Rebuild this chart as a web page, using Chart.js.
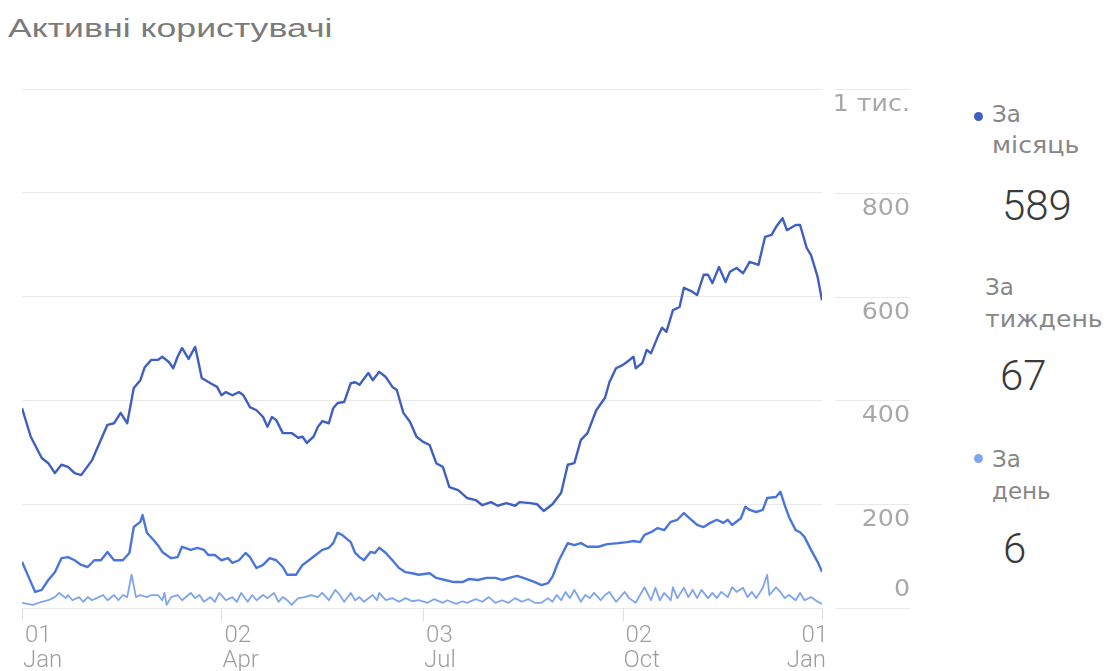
<!DOCTYPE html>
<html>
<head>
<meta charset="utf-8">
<script src="https://cdn.jsdelivr.net/npm/chart.js@4.4.1/dist/chart.umd.min.js"></script>
<style>
  body { margin: 0; background: #fff; width: 1110px; height: 671px; overflow: hidden; position: relative; }
  canvas { position: absolute; left: 0; top: 0; }
  .t { position: absolute; white-space: nowrap; line-height: 1; transform-origin: 0 0; }
  .lbl { font-family: "DejaVu Sans", sans-serif; font-size: 23px; color: #878787; }
  .num { font-family: Roboto, sans-serif; font-weight: 300; font-size: 42px; color: #3a3a3a; }
  .dot { position: absolute; width: 9px; height: 9px; border-radius: 50%; }
</style>
</head>
<body>
<div class="t" id="title" data-w="325" style="left:8px;top:15px;font-family:'Liberation Sans',Arial,sans-serif;font-size:26px;color:#7b7b7b">Активні користувачі</div>

<div class="dot" style="left:974px;top:112px;background:#3d5fc2"></div>
<div class="t lbl" style="left:992px;top:103px">За</div>
<div class="t lbl" data-w="87" style="left:992px;top:134px">місяць</div>
<div class="t num" style="left:1002px;top:185px">589</div>

<div class="t lbl" style="left:985px;top:276px">За</div>
<div class="t lbl" data-w="118" style="left:985px;top:308px">тиждень</div>
<div class="t num" style="left:1000px;top:355px">67</div>

<div class="dot" style="left:974px;top:454px;background:#7da6ef"></div>
<div class="t lbl" style="left:992px;top:448px">За</div>
<div class="t lbl" style="left:992px;top:480px">день</div>
<div class="t num" style="left:1003px;top:528px">6</div>

<canvas id="chart" width="1110" height="671"></canvas>

<script>
// days since 01 Jan
const monthDays = [0,4,9,12,15,18,21,24,27,32,36,39,42,45,48,51,54,56,59,62,64,67,69,71,73,76,79,80,82,86,89,91,93,96,99,101,104,107,110,112,114,116,119,121,123,126,128,130,133,135,137,140,142,144,147,150,152,154,158,160,163,166,169,171,174,177,180,183,186,189,192,195,199,203,207,210,214,217,221,225,227,232,235,238,242,246,249,252,255,258,262,266,268,271,274,276,279,280,283,285,287,290,292,294,297,300,302,306,308,311,313,315,318,321,323,326,329,332,336,339,342,344,347,349,353,355,358,360,363,365];
const monthUsers = [385,330,289,279,260,276,272,260,256,285,324,353,356,376,356,424,439,464,478,478,484,474,462,484,501,480,503,484,443,433,426,410,416,410,416,410,387,381,368,349,368,362,337,337,337,328,330,318,330,349,360,356,385,395,397,433,435,430,453,439,455,445,426,420,376,359,330,320,314,279,272,233,227,212,208,198,204,197,202,197,204,202,200,187,200,222,276,279,324,337,381,405,435,462,468,474,484,462,472,497,491,522,540,532,574,580,617,609,603,642,642,626,657,628,648,655,645,667,661,715,719,734,751,728,738,738,694,680,638,593];

const weekDays = [0,3,6,9,12,15,18,21,24,27,30,33,36,39,42,46,49,51,54,55,57,60,62,64,68,71,73,77,80,83,85,88,91,94,96,99,102,104,107,110,113,116,119,121,125,128,130,134,137,140,142,144,146,150,152,154,156,159,161,163,166,169,172,175,178,181,186,189,193,197,201,204,208,212,216,219,224,226,230,234,237,240,242,245,249,252,255,258,263,267,272,276,279,282,284,287,290,293,296,299,302,304,308,311,314,317,320,322,324,328,330,332,335,338,340,344,346,348,350,353,355,357,360,363,365];
const weekUsers = [89,60,31,35,54,69,96,98,92,83,79,92,92,108,92,92,106,156,166,179,145,131,121,108,96,98,118,112,116,112,102,102,92,96,87,92,106,98,77,83,96,92,79,64,64,83,89,102,112,116,125,145,141,127,106,98,92,108,106,116,106,92,77,69,67,64,67,58,54,50,50,56,54,58,58,54,60,62,56,50,44,48,60,92,125,121,125,118,118,123,125,127,129,127,141,146,154,150,166,170,183,175,160,156,164,170,164,170,160,173,195,189,185,189,212,214,224,198,175,150,146,137,112,89,70];

const dayDays = [0,5,9,12,15,17,20,21,23,26,28,30,32,35,37,39,42,44,46,48,50,52,54,57,59,62,64,65,66,68,71,73,77,79,81,83,86,88,90,93,96,98,100,103,105,107,110,112,115,117,119,121,123,126,129,132,135,137,140,143,145,147,150,152,154,156,160,162,163,166,169,172,175,178,181,185,188,192,194,198,201,203,207,210,213,216,219,222,225,228,231,234,237,240,242,244,246,248,250,252,255,257,259,261,264,266,268,271,273,275,277,280,282,284,287,289,291,293,296,297,299,302,304,306,308,310,313,315,317,319,322,324,326,329,331,333,335,338,340,341,344,346,348,350,353,355,357,360,363,365];
const dayUsers = [10,6,12,15,21,29,19,25,15,21,12,21,15,21,25,15,25,15,25,21,64,21,25,21,25,25,15,29,6,21,25,15,29,19,25,12,21,12,29,15,21,12,29,12,25,15,25,19,29,12,21,15,6,19,21,25,21,29,15,35,25,12,29,15,21,12,25,15,29,15,19,12,19,13,15,10,17,10,15,8,13,10,17,12,21,10,15,10,19,12,17,10,10,19,12,25,15,31,19,35,12,25,19,29,15,25,31,12,21,31,19,10,25,40,15,39,15,29,15,40,19,39,21,35,19,35,19,29,19,31,21,40,31,39,21,31,19,39,64,25,40,31,19,25,15,29,15,21,12,8];

const tickDays = [0, 91, 183, 274, 365];
const tickLabels = [['01', 'Jan'], ['02', 'Apr'], ['03', 'Jul'], ['02', 'Oct'], ['01', 'Jan']];
const yTicks = [0, 200, 400, 600, 800, 1000];
const yLabels = ['0', '200', '400', '600', '800', '1 тис.'];

// stretch html text to the widths seen in the picture
document.querySelectorAll('[data-w]').forEach(el => {
    const k = Number(el.dataset.w) / el.offsetWidth;
    el.style.transform = 'scaleX(' + k + ')';
});

function points(days, vals) {
    return days.map((d, i) => ({ x: d, y: vals[i] }));
}

const gridColor = '#e9e9e9';

const axisText = {
    id: 'axisText',
    afterDraw(chart) {
        const ctx = chart.ctx;
        const xs = chart.scales.x;
        const ys = chart.scales.y;
        const bottom = chart.chartArea.bottom;
        ctx.save();

        // grid stubs under the value labels
        ctx.strokeStyle = gridColor;
        ctx.lineWidth = 1;
        yTicks.forEach(v => {
            const y = Math.round(ys.getPixelForValue(v)) + 0.5;
            ctx.beginPath();
            ctx.moveTo(835, y);
            ctx.lineTo(910, y);
            ctx.stroke();
        });

        // tick marks on the date axis
        ctx.strokeStyle = '#dedede';
        tickDays.forEach(d => {
            const x = Math.round(xs.getPixelForValue(d)) + 0.5;
            ctx.beginPath();
            ctx.moveTo(x, bottom);
            ctx.lineTo(x, bottom + 13);
            ctx.stroke();
        });

        // value labels
        ctx.fillStyle = '#a8a8a8';
        ctx.font = '23px "DejaVu Sans"';
        ctx.textAlign = 'right';
        ctx.textBaseline = 'middle';
        yTicks.forEach((v, i) => {
            const y = ys.getPixelForValue(v) + (v === 0 ? -18 : 16);
            ctx.save();
            ctx.translate(910, y);
            ctx.scale(1.1, 1);
            ctx.fillText(yLabels[i], 0, 0);
            ctx.restore();
        });

        // date labels
        ctx.fillStyle = '#9e9e9e';
        ctx.font = '300 24px Roboto';
        ctx.textBaseline = 'alphabetic';
        tickDays.forEach((d, i) => {
            const last = i === tickDays.length - 1;
            const x = xs.getPixelForValue(d) + (last ? 4 : 1);
            ctx.textAlign = last ? 'right' : 'left';
            ctx.fillText(tickLabels[i][0], x + 2, bottom + 34);
            ctx.fillText(tickLabels[i][1], x, bottom + 59);
        });
        ctx.restore();
    }
};

new Chart(document.getElementById('chart'), {
    type: 'line',
    data: {
        datasets: [
            { label: 'За місяць', data: points(monthDays, monthUsers), borderColor: '#3f5fc1', borderWidth: 2.4 },
            { label: 'За тиждень', data: points(weekDays, weekUsers), borderColor: '#4a76d9', borderWidth: 2.4 },
            { label: 'За день', data: points(dayDays, dayUsers), borderColor: '#7fa4ea', borderWidth: 1.8 }
        ]
    },
    options: {
        responsive: false,
        animation: false,
        devicePixelRatio: 1,
        layout: { padding: { left: 22, right: 288, top: 89, bottom: 63 } },
        elements: { point: { radius: 0 }, line: { tension: 0, borderJoinStyle: 'round' } },
        plugins: { legend: { display: false }, tooltip: { enabled: false } },
        scales: {
            x: { type: 'linear', min: 0, max: 365, display: false },
            y: {
                position: 'right',
                min: 0,
                max: 1000,
                ticks: { display: false, stepSize: 200 },
                grid: { color: gridColor, drawTicks: false },
                border: { display: false },
                afterFit(s) { s.width = 0; }
            }
        }
    },
    plugins: [axisText]
});
</script>
</body>
</html>
